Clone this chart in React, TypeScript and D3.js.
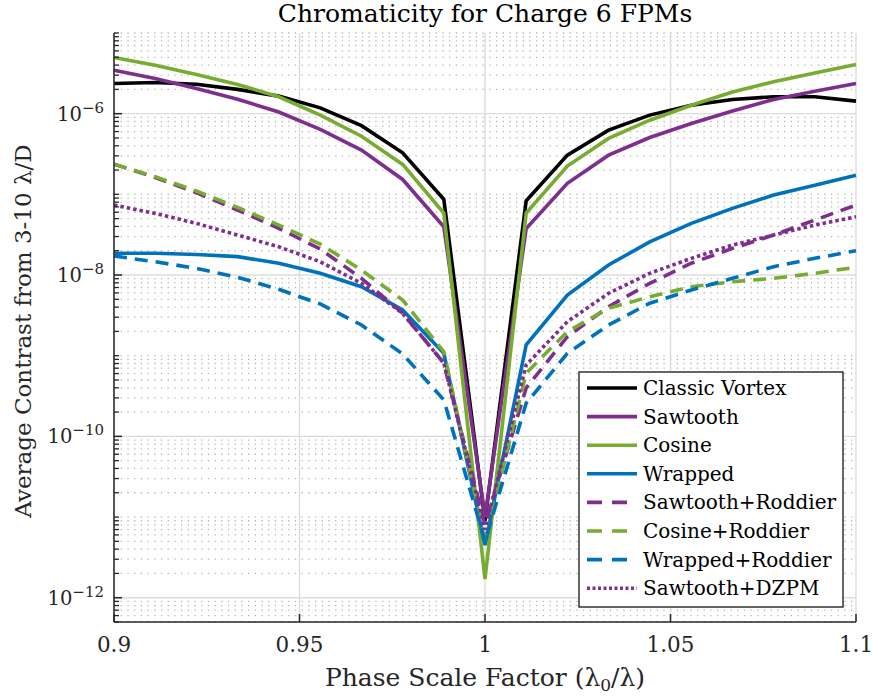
import * as d3 from 'd3';

// Phase scale factor samples (lambda0 / lambda)
const scaleFactors = [0.9, 0.9111, 0.9222, 0.9333, 0.9444, 0.9556, 0.9667, 0.9778, 0.9889, 1.0,
    1.0111, 1.0222, 1.0333, 1.0444, 1.0556, 1.0667, 1.0778, 1.0889, 1.1];

const classicVortex = [2.37e-6, 2.43e-6, 2.32e-6, 2.0e-6, 1.65e-6, 1.18e-6, 7.1e-7, 3.27e-7, 8.7e-8, 9e-12,
    8.3e-8, 3.06e-7, 6.25e-7, 9.6e-7, 1.27e-6, 1.5e-6, 1.62e-6, 1.62e-6, 1.43e-6];
const sawtooth = [3.46e-6, 2.73e-6, 2.05e-6, 1.51e-6, 1.05e-6, 6.4e-7, 3.53e-7, 1.53e-7, 3.96e-8, 1.0e-11,
    3.78e-8, 1.37e-7, 3.06e-7, 5.07e-7, 7.56e-7, 1.08e-6, 1.5e-6, 1.9e-6, 2.37e-6];
const cosine = [4.97e-6, 3.99e-6, 3.06e-6, 2.3e-6, 1.62e-6, 9.6e-7, 5.26e-7, 2.35e-7, 5.86e-8, 1.7e-12,
    5.86e-8, 2.24e-7, 4.93e-7, 8.3e-7, 1.27e-6, 1.86e-6, 2.48e-6, 3.2e-6, 4.06e-6];
const wrapped = [1.86e-8, 1.86e-8, 1.8e-8, 1.69e-8, 1.4e-8, 1.05e-8, 7.16e-9, 3.69e-9, 1.07e-9, 4.5e-12,
    1.36e-9, 5.65e-9, 1.33e-8, 2.58e-8, 4.37e-8, 6.7e-8, 9.79e-8, 1.3e-7, 1.73e-7];
const sawtoothRoddier = [2.37e-7, 1.62e-7, 1.05e-7, 6.38e-8, 3.79e-8, 2.1e-8, 9.1e-9, 3.36e-9, 8.07e-10, 8e-12,
    3.99e-10, 1.72e-9, 4.05e-9, 7.89e-9, 1.4e-8, 2.14e-8, 3.13e-8, 4.8e-8, 7.36e-8];
const cosineRoddier = [2.37e-7, 1.65e-7, 1.1e-7, 6.89e-8, 4.16e-8, 2.42e-8, 1.15e-8, 4.9e-9, 1.12e-9, 5e-12,
    6.07e-10, 1.99e-9, 3.87e-9, 5.38e-9, 7.16e-9, 8.26e-9, 9.1e-9, 1.05e-8, 1.25e-8];
const wrappedRoddier = [1.72e-8, 1.46e-8, 1.21e-8, 9.38e-9, 6.65e-9, 4.38e-9, 2.4e-9, 1.05e-9, 2.83e-10, 5e-12,
    2.58e-10, 1.07e-9, 2.4e-9, 4.47e-9, 6.52e-9, 9.1e-9, 1.27e-8, 1.61e-8, 2.0e-8];
const sawtoothDZPM = [7.36e-8, 5.81e-8, 4.37e-8, 3.13e-8, 2.24e-8, 1.46e-8, 7.89e-9, 3.36e-9, 8.13e-10, 7e-12,
    7.68e-10, 2.64e-9, 5.93e-9, 1.05e-8, 1.61e-8, 2.35e-8, 3.13e-8, 4.16e-8, 5.27e-8];

const xTicks = [0.9, 0.95, 1, 1.05, 1.1];
const xTickLabels = ['0.9', '0.95', '1', '1.05', '1.1'];
const yMajorExponents = [-12, -10, -8, -6];

const PURPLE = '#7E2F8E';
const GREEN = '#77AC30';
const BLUE = '#0072BD';
const DASH = '13,8';
const DOT = '3.5,3';

const series = [
    { name: 'Classic Vortex', values: classicVortex, color: '#000000', dash: null },
    { name: 'Sawtooth', values: sawtooth, color: PURPLE, dash: null },
    { name: 'Cosine', values: cosine, color: GREEN, dash: null },
    { name: 'Wrapped', values: wrapped, color: BLUE, dash: null },
    { name: 'Sawtooth+Roddier', values: sawtoothRoddier, color: PURPLE, dash: DASH },
    { name: 'Cosine+Roddier', values: cosineRoddier, color: GREEN, dash: DASH },
    { name: 'Wrapped+Roddier', values: wrappedRoddier, color: BLUE, dash: DASH },
    { name: 'Sawtooth+DZPM', values: sawtoothDZPM, color: PURPLE, dash: DOT },
];

const FONT = 'DejaVu Serif';
const AXIS = '#262626';

export default function App() {
    const width = 872, height = 698;
    const left = 114, right = 856, top = 33, bottom = 622;

    const x = d3.scaleLinear().domain([0.9, 1.1]).range([left, right]);
    const y = d3.scaleLog().domain([5e-13, 1e-5]).range([bottom, top]);

    const majorVals = yMajorExponents.map(e => Math.pow(10, e));
    const isMajor = (v: number) => majorVals.some(m => Math.abs(Math.log10(v) - Math.log10(m)) < 1e-6);
    const minorVals = y.ticks().filter(v => !isMajor(v));

    const line = d3.line<number>()
        .x((_, i) => x(scaleFactors[i]))
        .y(d => y(d));

    // legend placement
    const lgX = 579, lgY = 372, lgW = 264, lgH = 235;
    const rowH = 28.6;

    return (
        <svg width={width} height={height}
            style={{ position: 'absolute', left: 0, top: 0, background: '#fff' }}>
            {/* minor grid */}
            {minorVals.map((v, i) => (
                <line key={'mg' + i} x1={left} x2={right} y1={y(v)} y2={y(v)}
                    stroke="#b5b5b5" strokeWidth={1.3} strokeDasharray="1.3,5.4" />
            ))}
            {/* major grid */}
            {majorVals.map((v, i) => (
                <line key={'Mg' + i} x1={left} x2={right} y1={y(v)} y2={y(v)} stroke="#dcdcdc" strokeWidth={1.4} />
            ))}
            {xTicks.map((t, i) => (
                <line key={'xg' + i} x1={x(t)} x2={x(t)} y1={top} y2={bottom} stroke="#dcdcdc" strokeWidth={1.4} />
            ))}

            {/* data lines */}
            {series.map(s => (
                <path key={s.name} d={line(s.values) as string} fill="none" stroke={s.color}
                    strokeWidth={3.6} strokeDasharray={s.dash ?? undefined} />
            ))}

            {/* axes */}
            <line x1={left} x2={left} y1={top} y2={bottom} stroke={AXIS} strokeWidth={1.5} />
            <line x1={left} x2={right} y1={bottom} y2={bottom} stroke={AXIS} strokeWidth={1.5} />
            <g fontFamily={FONT} fill={AXIS}>
                {xTicks.map((t, i) => (
                    <g key={'xt' + i}>
                        <line x1={x(t)} x2={x(t)} y1={bottom} y2={bottom - 8} stroke={AXIS} strokeWidth={1.5} />
                        <text x={x(t)} y={bottom + 30} textAnchor="middle" fontSize={21.5}>{xTickLabels[i]}</text>
                    </g>
                ))}
                {minorVals.map((v, i) => (
                    <line key={'ym' + i} x1={left} x2={left + 5} y1={y(v)} y2={y(v)} stroke={AXIS} strokeWidth={1.3} />
                ))}
                {yMajorExponents.map((e, i) => {
                    const gy = y(Math.pow(10, e));
                    return (
                        <g key={'yt' + i}>
                            <line x1={left} x2={left + 8} y1={gy} y2={gy} stroke={AXIS} strokeWidth={1.5} />
                            <text x={104} y={gy + 7} textAnchor="end" fontSize={19.5}>
                                <tspan>10</tspan>
                                <tspan dy={-8} fontSize={15}>{'\u2212' + Math.abs(e)}</tspan>
                            </text>
                        </g>
                    );
                })}

                {/* title and labels */}
                <text x={485} y={22} textAnchor="middle" fontSize={25} fill="#000">Chromaticity for Charge 6 FPMs</text>
                <text x={485} y={686} textAnchor="middle" fontSize={25}>
                    Phase Scale Factor (λ<tspan fontSize={17} dy={5}>0</tspan><tspan dy={-5}>/λ)</tspan>
                </text>
                <text transform="translate(31,331) rotate(-90)" textAnchor="middle" fontSize={23}>
                    Average Contrast from 3-10 λ/D
                </text>
            </g>

            {/* legend */}
            <rect x={lgX} y={lgY} width={lgW} height={lgH} fill="#fff" stroke={AXIS} strokeWidth={1.4} />
            {series.map((s, i) => {
                const ly = lgY + 16 + i * rowH;
                return (
                    <g key={'lg' + s.name}>
                        <line x1={587} x2={637} y1={ly} y2={ly} stroke={s.color} strokeWidth={3.6}
                            strokeDasharray={s.dash === DASH ? '15,10' : s.dash === DOT ? '3,2.5' : undefined} />
                        <text x={643} y={ly + 7} fontSize={20} fontFamily={FONT} fill="#000">{s.name}</text>
                    </g>
                );
            })}
        </svg>
    );
}
